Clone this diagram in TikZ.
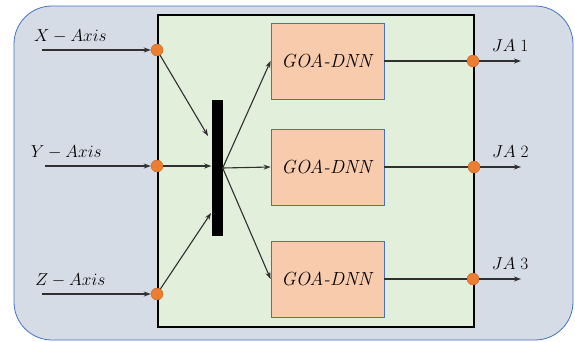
\documentclass[tikz,border=0pt]{standalone}
\usepackage{tikz}
\usetikzlibrary{arrows.meta}
\definecolor{outerfill}{HTML}{D6DCE5}
\definecolor{outerline}{HTML}{4472C4}
\definecolor{innerfill}{HTML}{E2EFDA}
\definecolor{goafill}{HTML}{F8CBAD}
\definecolor{dotfill}{HTML}{ED7D31}
\definecolor{arrowgray}{HTML}{303030}
\tikzset{
    goabox/.style={draw=outerline, fill=goafill, line width=0.8pt, minimum width=113, minimum height=76, inner sep=0pt},
    jdot/.style={circle, draw=dotfill!80!black, line width=0.4pt, fill=dotfill, minimum size=12, inner sep=0pt},
    flow/.style={->, >={Stealth[length=7pt, width=5pt]}, draw=arrowgray, line width=1.1pt}
}
\begin{document}
\begin{tikzpicture}[x=1pt, y=-1pt, font=\fontsize{19}{23}\selectfont]
    \useasboundingbox (0,0) rectangle (575,341);
    \draw[draw=outerline, fill=outerfill, line width=0.8pt, rounded corners=38](14,6) rectangle (573,340);
    \draw[fill=innerfill, line width=1.2pt](158,15) rectangle (474,327);
    \node[fill=black, minimum width=11, minimum height=136, inner sep=0pt] (bar) at (217,168) {};
    \node[goabox] (goa1) at (327.5,61) {\textit{GOA-DNN}};
    \node[goabox] (goa2) at (327.5,167) {\textit{GOA-DNN}};
    \node[goabox] (goa3) at (327.5,279) {\textit{GOA-DNN}};
    \node[jdot] (inx) at (157,50) {};
    \node[jdot] (iny) at (157,166) {};
    \node[jdot] (inz) at (157,294) {};
    \node[jdot] (out1) at (473,61) {};
    \node[jdot] (out2) at (474,167) {};
    \node[jdot] (out3) at (473,279) {};
    \coordinate (srcx) at (42,50);
    \coordinate (srcy) at (45,166);
    \coordinate (srcz) at (42,294);
    \coordinate (endx) at (208,136);
    \coordinate (endz) at (211,213);
    \coordinate (ja1) at (521,61);
    \coordinate (ja2) at (521,167);
    \coordinate (ja3) at (521,279);
    \draw[flow](srcx)--(inx)node[pos=0.26, above=3pt]{$X - Axis$};
    \draw[flow](srcy)--(iny)node[pos=0.2, above=3pt]{$Y - Axis$};
    \draw[flow](srcz)--(inz)node[pos=0.26, above=3pt]{$Z - Axis$};
    \draw[flow](inx)--(endx);
    \draw[flow](iny)--(bar.west|-iny);
    \draw[flow](inz)--(endz);
    \draw[flow](bar.east)--(goa1.west);
    \draw[flow](bar.east)--(goa2.west);
    \draw[flow](bar.east)--(goa3.west);
    \draw[arrowgray, line width=1.1pt](goa1.east)--(out1);
    \draw[arrowgray, line width=1.1pt](goa2.east)--(out2);
    \draw[arrowgray, line width=1.1pt](goa3.east)--(out3);
    \draw[flow](out1)--(ja1)node[pos=0.74, above=6pt]{$JA\;1$};
    \draw[flow](out2)--(ja2)node[pos=0.74, above=6pt]{$JA\;2$};
    \draw[flow](out3)--(ja3)node[pos=0.74, above=6pt]{$JA\;3$};
\end{tikzpicture}
\end{document}
